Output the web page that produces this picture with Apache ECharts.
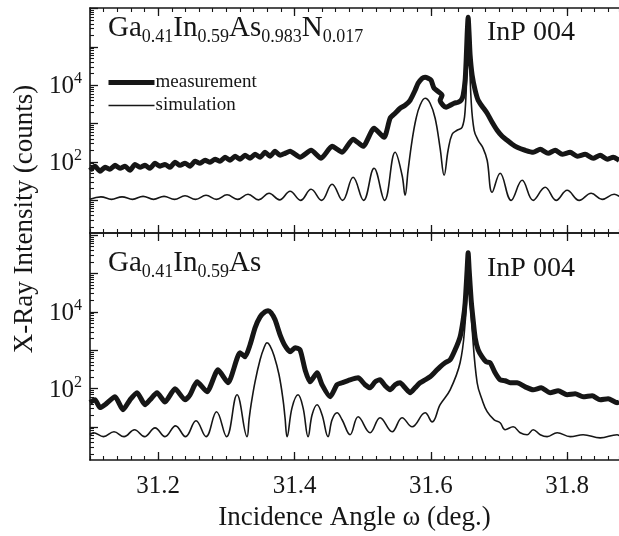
<!DOCTYPE html>
<html><head><meta charset="utf-8">
<script src="https://cdn.jsdelivr.net/npm/echarts@6/dist/echarts.min.js"></script>
<style>html,body{margin:0;padding:0;background:#fff}#c{width:619px;height:536px}</style>
</head><body><div id="c"></div><script>
// ---- x range and ticks ----
const X_MIN = 31.1, X_MAX = 31.876;
const xMajorTicks = [31.2, 31.4, 31.6, 31.8];
const xTickLabels = ['31.2', '31.4', '31.6', '31.8'];
const yDecades = [10, 100, 1000, 10000, 100000, 1000000];
const yLabelValues = [100, 10000];
const yMinorTicks = [2,3,4,5,6,7,8,9,20,30,40,50,60,70,80,90,200,300,400,500,600,700,800,900,
  2000,3000,4000,5000,6000,7000,8000,9000,20000,30000,40000,50000,60000,70000,80000,90000,
  200000,300000,400000,500000,600000,700000,800000,900000];
const topRange = [1.39, 1.04e6];
const bottomRange = [1.38, 1.13e6];

// ---- top panel: Ga0.41In0.59As0.983N0.017 ----
const topMeasOmega = [31.1000,31.1073,31.1147,31.1220,31.1293,31.1367,31.1440,31.1514,31.1587,31.1660,31.1734,31.1807,31.1880,31.1954,31.2027,31.2100,31.2174,31.2247,31.2321,31.2394,31.2467,31.2541,31.2614,31.2688,31.2761,31.2834,31.2908,31.2981,31.3054,31.3128,31.3201,31.3274,31.3348,31.3421,31.3495,31.3568,31.3641,31.3715,31.3788,31.3861,31.3935,31.4081,31.4243,31.4390,31.4551,31.4698,31.4859,31.5006,31.5167,31.5314,31.5402,31.5476,31.5549,31.5622,31.5696,31.5769,31.5813,31.5872,31.5916,31.5960,31.6004,31.6048,31.6165,31.6136,31.6180,31.6224,31.6283,31.6341,31.6400,31.6444,31.6474,31.6503,31.6518,31.6532,31.6547,31.6562,31.6576,31.6606,31.6650,31.6694,31.6752,31.6826,31.6899,31.6972,31.7046,31.7119,31.7193,31.7266,31.7383,31.7501,31.7604,31.7721,31.7824,31.7926,31.8043,31.8146,31.8264,31.8381,31.8484,31.8587,31.8675,31.8763];
const topMeasCounts = [60,77,57,72,64,81,68,77,60,86,72,81,68,92,77,86,72,98,81,92,77,104,92,110,98,117,104,132,110,140,117,149,124,158,132,178,140,189,149,167,189,132,201,124,255,178,389,255,753,439,1374,1858,2506,3000,4055,7400,11270,15200,16180,15200,13490,8340,5480,4055,3000,2661,3000,3388,3597,4055,5480,13490,44870,201800,595700,201800,60700,18240,7400,4055,2826,1858,1081,668,466,366,288,240,201,178,213,167,201,158,178,140,158,124,149,117,132,110];
const topSimOmega = [31.1000,31.1161,31.1316,31.1470,31.1624,31.1778,31.1932,31.2086,31.2240,31.2394,31.2548,31.2702,31.2856,31.3010,31.3164,31.3318,31.3473,31.3627,31.3781,31.3935,31.4089,31.4243,31.4397,31.4551,31.4705,31.4859,31.5013,31.5167,31.5321,31.5476,31.5578,31.5622,31.5666,31.5725,31.5784,31.5842,31.5916,31.5989,31.6063,31.6136,31.6195,31.6253,31.6312,31.6385,31.6459,31.6503,31.6532,31.6547,31.6562,31.6591,31.6635,31.6694,31.6767,31.6826,31.6899,31.7016,31.7178,31.7339,31.7501,31.7677,31.7838,31.7999,31.8176,31.8352,31.8513,31.8689,31.8763];
const topSimCounts = [10.5,12.2,10.5,12.2,10.5,12.6,10.5,12.6,10.5,13.0,10.5,13.4,10.5,13.8,10.5,14.3,10.2,15.1,10.2,17.1,9.9,19.2,9.9,26,9.9,39.6,9.9,68,9.9,178,44.7,13.4,60,366,1374,3000,4571,3388,1374,226,44.7,201,525,668,800,2223,44870,561000,110700,4055,668,366,226,110,16.1,50.4,9.9,33,9.9,21.7,9.9,18.1,9.9,15.1,10.5,14.3,12.6];

// ---- bottom panel: Ga0.41In0.59As ----
const botMeasOmega = [31.1000,31.1073,31.1147,31.1235,31.1367,31.1484,31.1587,31.1690,31.1807,31.1880,31.1983,31.2100,31.2247,31.2394,31.2467,31.2570,31.2717,31.2878,31.3025,31.3201,31.3274,31.3348,31.3421,31.3495,31.3568,31.3612,31.3656,31.3715,31.3788,31.3861,31.3935,31.4008,31.4081,31.4155,31.4228,31.4331,31.4404,31.4522,31.4624,31.4698,31.4815,31.4933,31.5035,31.5109,31.5182,31.5255,31.5329,31.5402,31.5476,31.5549,31.5622,31.5696,31.5769,31.5842,31.5916,31.5989,31.6063,31.6136,31.6209,31.6283,31.6356,31.6429,31.6474,31.6503,31.6532,31.6547,31.6562,31.6591,31.6620,31.6650,31.6694,31.6752,31.6811,31.6870,31.6943,31.7016,31.7090,31.7163,31.7266,31.7383,31.7501,31.7618,31.7750,31.7868,31.7999,31.8117,31.8234,31.8367,31.8484,31.8601,31.8733,31.8763];
const botMeasCounts = [43,51,32,40,61,28,51,78,38,51,78,45,99,51,69,150,83,309,142,855,673,1384,3828,7410,10000,10620,9418,6190,2518,1303,908,1153,1024,309,150,258,126,61,126,142,169,191,126,105,150,169,118,93,126,142,105,78,105,142,169,203,274,370,470,562,1024,2233,6190,17140,124200,343600,124200,20500,6190,2104,1024,673,499,470,258,169,160,142,142,111,93,105,78,88,69,73,61,65,51,54,43,45];
const botSimOmega = [31.1000,31.1051,31.1198,31.1352,31.1499,31.1653,31.1800,31.1954,31.2100,31.2255,31.2401,31.2555,31.2702,31.2856,31.3003,31.3157,31.3304,31.3333,31.3363,31.3421,31.3495,31.3553,31.3597,31.3641,31.3700,31.3773,31.3832,31.3861,31.3891,31.3964,31.4052,31.4125,31.4199,31.4258,31.4331,31.4404,31.4492,31.4551,31.4624,31.4698,31.4815,31.4933,31.5109,31.5255,31.5432,31.5578,31.5725,31.5916,31.6019,31.6136,31.6283,31.6429,31.6503,31.6532,31.6547,31.6562,31.6606,31.6679,31.6752,31.6826,31.6929,31.7016,31.7090,31.7207,31.7310,31.7413,31.7501,31.7604,31.7706,31.7853,31.8043,31.8234,31.8484,31.8733,31.8763];
const botSimCounts = [6.3,7.1,5.6,7.5,5.6,8.5,5.6,9.5,5.6,10.7,5.6,14.5,5.6,25,5.6,69,5.6,15.4,38,150,562,1155,1560,1303,714,229,51,17.4,5.6,32,69,32,5.6,20.8,38,20.8,5.6,15.4,23.4,15.4,6.3,18.5,7.1,17.4,7.5,17.4,10.1,23.4,13.6,38,93,470,5180,50500,270400,50500,3397,142,51,25,15.4,12.9,8.5,10.1,7.1,6.3,8.5,6.3,5.6,7.1,5.6,6.3,5.2,6.3,5.9];

const FONT = 'Liberation Serif';
const INK = '#161616';
const zip = (a, b) => a.map((v, i) => [v, b[i]]);

function xMajor(gi, pos, showLabel) {
  return {
    type: 'value', gridIndex: gi, position: pos, min: X_MIN, max: X_MAX,
    axisLine: { show: true, onZero: false, lineStyle: { color: INK, width: 1.6 } },
    axisTick: { show: true, inside: true, length: 8, customValues: xMajorTicks, lineStyle: { color: INK, width: 1.3 } },
    axisLabel: {
      show: showLabel, customValues: xMajorTicks, margin: 14,
      fontFamily: FONT, fontSize: 25, color: INK,
      formatter: v => xTickLabels[xMajorTicks.findIndex(t => Math.abs(t - v) < 1e-6)]
    },
    splitLine: { show: false },
    name: showLabel ? 'Incidence Angle \u03c9 (deg.)' : '',
    nameLocation: 'middle', nameGap: 44,
    nameTextStyle: { fontFamily: FONT, fontSize: 27, color: INK }
  };
}
function xMinor(gi, pos) {
  return {
    type: 'value', gridIndex: gi, position: pos, min: X_MIN, max: X_MAX, interval: 0.02,
    axisLine: { show: false },
    axisTick: { show: true, inside: true, length: 4, lineStyle: { color: INK, width: 1.1 } },
    axisLabel: { show: false }, splitLine: { show: false }
  };
}
function yMajor(gi, range) {
  return {
    type: 'log', logBase: 10, gridIndex: gi, position: 'left', min: range[0], max: range[1],
    axisLine: { show: true, onZero: false, lineStyle: { color: INK, width: 1.6 } },
    axisTick: { show: true, inside: true, length: 8, customValues: yDecades, lineStyle: { color: INK, width: 1.3 } },
    axisLabel: {
      customValues: yLabelValues, margin: 8, color: INK,
      formatter: v => '{b|10}{p|' + Math.round(Math.log10(v)) + '}',
      rich: {
        b: { fontFamily: FONT, fontSize: 25, lineHeight: 28, verticalAlign: 'bottom', color: INK },
        p: { fontFamily: FONT, fontSize: 16, lineHeight: 16, padding: [0, 0, 14, 0], verticalAlign: 'top', color: INK }
      }
    },
    splitLine: { show: false }
  };
}
function yMinor(gi, range) {
  return {
    type: 'log', logBase: 10, gridIndex: gi, position: 'left', min: range[0], max: range[1],
    axisLine: { show: false },
    axisTick: { show: true, inside: true, length: 4, customValues: yMinorTicks, lineStyle: { color: INK, width: 1.1 } },
    axisLabel: { show: false }, splitLine: { show: false }
  };
}

const formulaRich = {
  m: { fontFamily: FONT, fontSize: 29, lineHeight: 33, verticalAlign: 'top', fill: INK, color: INK },
  s: { fontFamily: FONT, fontSize: 18, lineHeight: 18, padding: [20, 0, 0, 0], verticalAlign: 'bottom', fill: INK, color: INK }
};

const chart = echarts.init(document.getElementById('c'), null, { renderer: 'canvas' });
chart.setOption({
  animation: false,
  backgroundColor: '#fff',
  grid: [
    { left: 90, right: 0, top: 8, height: 225 },
    { left: 90, right: 0, top: 233, height: 227 }
  ],
  xAxis: [
    xMajor(0, 'bottom', false), xMajor(0, 'top', false), xMinor(0, 'bottom'), xMinor(0, 'top'),
    xMajor(1, 'bottom', true), xMajor(1, 'top', false), xMinor(1, 'bottom'), xMinor(1, 'top')
  ],
  yAxis: [
    yMajor(0, topRange), yMinor(0, topRange), yMajor(1, bottomRange), yMinor(1, bottomRange)
  ],
  legend: {
    data: ['measurement', 'simulation'], orient: 'vertical', left: 101, top: 68,
    itemWidth: 46, itemHeight: 14, itemGap: 4, selectedMode: false,
    itemStyle: { opacity: 0 },
    lineStyle: { width: 'inherit' },
    textStyle: { fontFamily: FONT, fontSize: 19, color: INK, padding: [0, 0, 0, -4] }
  },
  series: [
    { type: 'line', name: 'measurement', xAxisIndex: 0, yAxisIndex: 0, data: zip(topMeasOmega, topMeasCounts),
      symbol: 'none', smooth: 0.2, lineStyle: { color: INK, width: 5, join: 'round' }, itemStyle: { color: INK }, z: 3 },
    { type: 'line', name: 'simulation', xAxisIndex: 0, yAxisIndex: 0, data: zip(topSimOmega, topSimCounts),
      symbol: 'none', smooth: 0.4, lineStyle: { color: INK, width: 1.6 }, itemStyle: { color: INK }, z: 4 },
    { type: 'line', name: 'measurement', xAxisIndex: 4, yAxisIndex: 2, data: zip(botMeasOmega, botMeasCounts),
      symbol: 'none', smooth: 0.2, lineStyle: { color: INK, width: 5, join: 'round' }, itemStyle: { color: INK }, z: 3 },
    { type: 'line', name: 'simulation', xAxisIndex: 4, yAxisIndex: 2, data: zip(botSimOmega, botSimCounts),
      symbol: 'none', smooth: 0.4, lineStyle: { color: INK, width: 1.6 }, itemStyle: { color: INK }, z: 4 }
  ],
  graphic: [
    { type: 'text', x: 108, y: 13.5, style: { text: '{m|Ga}{s|0.41}{m|In}{s|0.59}{m|As}{s|0.983}{m|N}{s|0.017}', rich: formulaRich, fill: INK } },
    { type: 'text', x: 487, y: 19, style: { text: 'InP 004', fontFamily: FONT, fontSize: 28, fill: INK } },
    { type: 'text', x: 108, y: 248.5, style: { text: '{m|Ga}{s|0.41}{m|In}{s|0.59}{m|As}', rich: formulaRich, fill: INK } },
    { type: 'text', x: 487, y: 255, style: { text: 'InP 004', fontFamily: FONT, fontSize: 28, fill: INK } },
    { type: 'text', x: 25, y: 219, rotation: Math.PI / 2,
      style: { text: 'X-Ray Intensity (counts)', fontFamily: FONT, fontSize: 27, fill: INK, align: 'center', verticalAlign: 'middle' } }
  ]
});
</script></body></html>
